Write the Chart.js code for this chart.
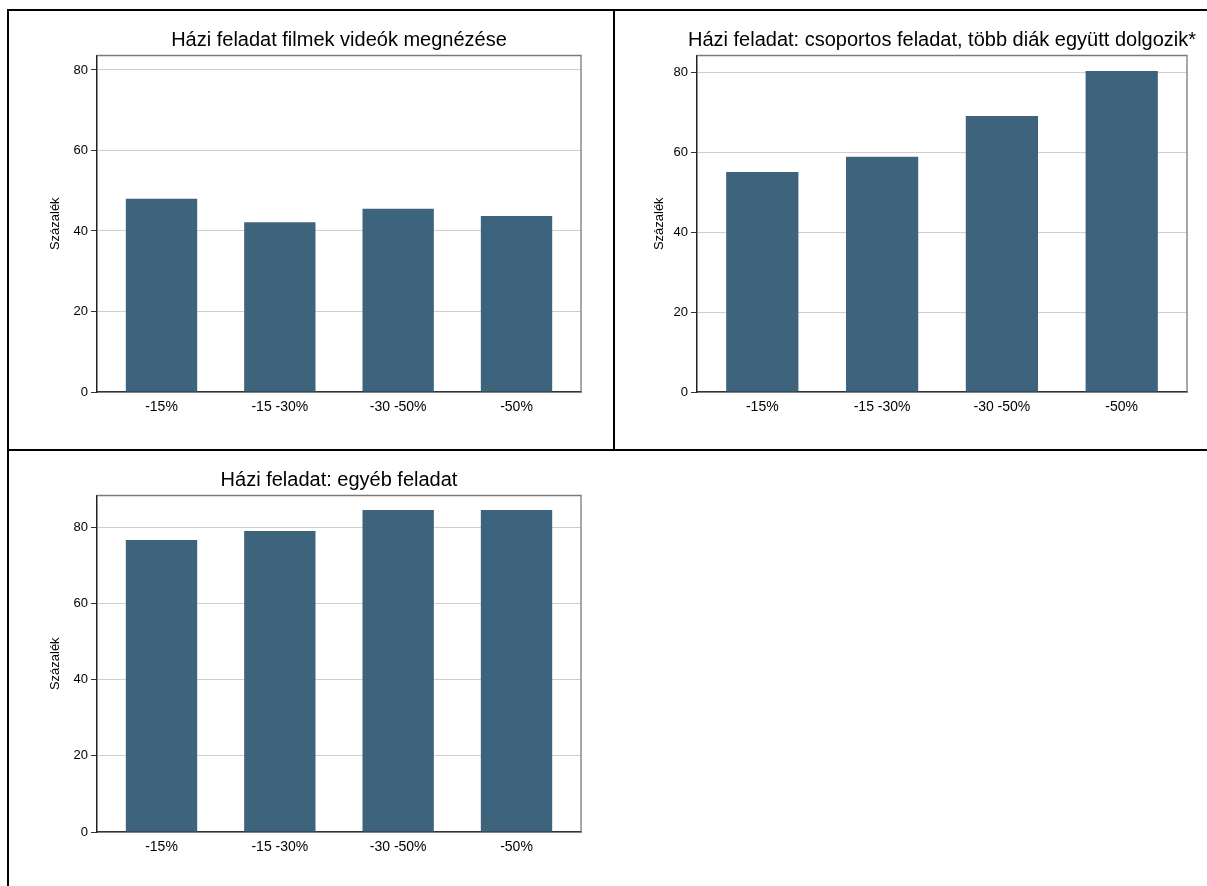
<!DOCTYPE html>
<html>
<head>
    <title>Házi feladat</title>
    <script src="https://cdn.jsdelivr.net/npm/chart.js"></script>
    <style>
        body {
            margin: 0;
            background-color: white;
            width: 1207px;
            height: 886px;
            position: relative;
            overflow: hidden;
            font-family: "Liberation Sans", Arial, sans-serif;
        }
        canvas { position: absolute; }
        .rule { position: absolute; background-color: black; }
    </style>
</head>
<body>
    <div class="rule" style="left:7px; top:9px; width:1200px; height:2px;"></div>
    <div class="rule" style="left:7px; top:9px; width:2px; height:877px;"></div>
    <div class="rule" style="left:613px; top:9px; width:2px; height:442px;"></div>
    <div class="rule" style="left:7px; top:449px; width:1200px; height:2px;"></div>

    <canvas id="chart1" width="600" height="436" style="left:10px; top:12px;"></canvas>
    <canvas id="chart2" width="591" height="436" style="left:616px; top:12px;"></canvas>
    <canvas id="chart3" width="600" height="434" style="left:10px; top:452px;"></canvas>

    <script>
        const categories = ['-15%', '-15 -30%', '-30 -50%', '-50%'];
        const filmValues = [48.0, 42.2, 45.5, 43.7];
        const groupValues = [55.1, 58.9, 69.1, 80.4];
        const otherValues = [76.6, 79.0, 84.5, 84.5];
        const yTicks = [0, 20, 40, 60, 80];

        const FONT = '"Liberation Sans", Arial, sans-serif';
        const BAR_COLOR = '#3e647d';

        // custom title centred over the plot area + grey top/right frame
        const panelDecor = {
            id: 'panelDecor',
            afterDatasetsDraw(chart, args, opts) {
                const { ctx, chartArea } = chart;
                ctx.save();
                ctx.strokeStyle = '#7a7a7a';
                ctx.lineWidth = 1.3;
                ctx.beginPath();
                ctx.moveTo(chartArea.left, chartArea.top);
                ctx.lineTo(chartArea.right, chartArea.top);
                ctx.lineTo(chartArea.right, chartArea.bottom);
                ctx.stroke();
                ctx.fillStyle = '#000';
                ctx.font = '20px ' + FONT;
                ctx.textAlign = 'center';
                ctx.textBaseline = 'middle';
                ctx.fillText(opts.text, (chartArea.left + chartArea.right) / 2, chartArea.top - 15);
                ctx.restore();
            }
        };

        function makeChart(id, title, values, yMax, yWidth, xHeight, padRight, yTitlePad) {
            const ctx = document.getElementById(id).getContext('2d');
            return new Chart(ctx, {
                type: 'bar',
                data: {
                    datasets: [{
                        data: values.map((v, i) => ({ x: i, y: v })),
                        backgroundColor: BAR_COLOR,
                        borderWidth: 0,
                        barPercentage: 0.603,
                        categoryPercentage: 1
                    }]
                },
                plugins: [panelDecor],
                options: {
                    responsive: false,
                    animation: false,
                    layout: { padding: { top: 43.5, right: padRight, left: 0, bottom: 0 } },
                    scales: {
                        x: {
                            type: 'linear',
                            offset: false,
                            min: -0.545,
                            max: 3.545,
                            afterBuildTicks: scale => {
                                scale.ticks = categories.map((_, i) => ({ value: i }));
                            },
                            afterFit: scale => { scale.height = xHeight; },
                            grid: { display: false, drawTicks: false, offset: false },
                            border: { color: '#333', width: 1.5 },
                            ticks: {
                                color: '#000',
                                padding: 6.5,
                                maxRotation: 0,
                                autoSkip: false,
                                font: { family: FONT, size: 14 },
                                callback: v => categories[v]
                            }
                        },
                        y: {
                            min: 0,
                            max: yMax,
                            afterBuildTicks: scale => {
                                scale.ticks = yTicks.map(v => ({ value: v }));
                            },
                            afterFit: scale => { scale.width = yWidth; },
                            grid: { color: '#cfcfcf', lineWidth: 1, tickColor: '#333', tickLength: 6 },
                            border: { color: '#222', width: 1.5 },
                            ticks: {
                                color: '#000',
                                padding: 3,
                                font: { family: FONT, size: 13 }
                            },
                            title: {
                                display: true,
                                text: 'Százalék',
                                color: '#000',
                                font: { family: FONT, size: 13 },
                                padding: { top: yTitlePad, bottom: 0 }
                            }
                        }
                    },
                    plugins: {
                        legend: { display: false },
                        tooltip: { enabled: false },
                        title: { display: false },
                        panelDecor: { text: title }
                    }
                }
            });
        }

        makeChart('chart1', 'Házi feladat filmek videók megnézése', filmValues, 83.6, 87, 56, 29, 37.2);
        makeChart('chart2', 'Házi feladat: csoportos feladat, több diák együtt dolgozik*', groupValues, 84.25, 81, 56, 20, 35.2);
        makeChart('chart3', 'Házi feladat: egyéb feladat', otherValues, 88.3, 87, 54, 29, 37.2);
    </script>
</body>
</html>
